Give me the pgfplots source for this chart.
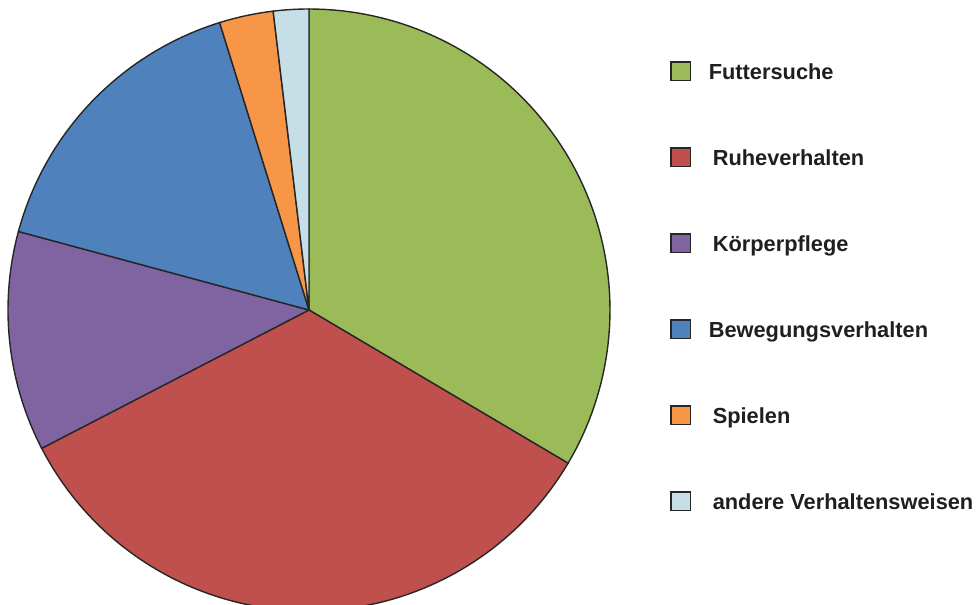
\documentclass[border=0pt]{standalone}
\usepackage{fontspec}
\setmainfont{Liberation Sans}
\usepackage{pgfplots}
\pgfplotsset{compat=1.18}
\definecolor{cgreen}{HTML}{9BBB59}
\definecolor{cred}{HTML}{C0504D}
\definecolor{cpurple}{HTML}{8064A2}
\definecolor{cblue}{HTML}{4F81BD}
\definecolor{corange}{HTML}{F79646}
\definecolor{clight}{HTML}{C6DFE6}
% shares in percent
\def\vA{33.5}\def\vB{33.9}\def\vC{11.8}\def\vD{16.0}\def\vE{2.9}\def\vF{1.9}
\def\cx{309}\def\cy{295}\def\rr{301}
\begin{document}
\begin{tikzpicture}
\pgfmathsetmacro\aA{90}
\pgfmathsetmacro\aB{\aA-3.6*\vA}
\pgfmathsetmacro\aC{\aB-3.6*\vB}
\pgfmathsetmacro\aD{\aC-3.6*\vC}
\pgfmathsetmacro\aE{\aD-3.6*\vD}
\pgfmathsetmacro\aF{\aE-3.6*\vE}
\pgfmathsetmacro\aG{\aF-3.6*\vF}
\begin{axis}[
  width=490pt, height=302.5pt, scale only axis,
  xmin=0, xmax=980, ymin=0, ymax=605,
  hide axis, clip=true,
  samples=80,
  every axis plot/.append style={draw=black!85, line width=0.7pt},
  legend image code/.code={\draw[#1, line width=0.6pt] (0pt,-4.6pt) rectangle (9.6pt,4.6pt);},
  legend style={draw=none, fill=none, at={(axis cs:664,548)}, anchor=north west,
    font=\bfseries\fontsize{10.9pt}{12pt}\selectfont, text=black!88,
    row sep=33.2pt, nodes={inner sep=0pt, outer sep=0pt, text depth=0pt, anchor=west}},
  legend cell align=left,
]
\path (axis cs:0,0) rectangle (axis cs:980,605);
\addplot[fill=cgreen, domain=\aB:\aA] ({\cx+\rr*cos(x)},{\cy+\rr*sin(x)}) -- (axis cs:\cx,\cy) -- cycle;
\addlegendentry{\hspace{9pt}Futtersuche}
\addplot[fill=cred, domain=\aC:\aB] ({\cx+\rr*cos(x)},{\cy+\rr*sin(x)}) -- (axis cs:\cx,\cy) -- cycle;
\addlegendentry{\hspace{11pt}Ruheverhalten}
\addplot[fill=cpurple, domain=\aD:\aC] ({\cx+\rr*cos(x)},{\cy+\rr*sin(x)}) -- (axis cs:\cx,\cy) -- cycle;
\addlegendentry{\hspace{11pt}Körperpflege}
\addplot[fill=cblue, domain=\aE:\aD] ({\cx+\rr*cos(x)},{\cy+\rr*sin(x)}) -- (axis cs:\cx,\cy) -- cycle;
\addlegendentry{\hspace{9pt}Bewegungsverhalten}
\addplot[fill=corange, domain=\aF:\aE] ({\cx+\rr*cos(x)},{\cy+\rr*sin(x)}) -- (axis cs:\cx,\cy) -- cycle;
\addlegendentry{\hspace{11pt}Spielen}
\addplot[fill=clight, domain=\aG:\aF] ({\cx+\rr*cos(x)},{\cy+\rr*sin(x)}) -- (axis cs:\cx,\cy) -- cycle;
\addlegendentry{\hspace{11pt}andere Verhaltensweisen}
\end{axis}
\end{tikzpicture}
\end{document}
